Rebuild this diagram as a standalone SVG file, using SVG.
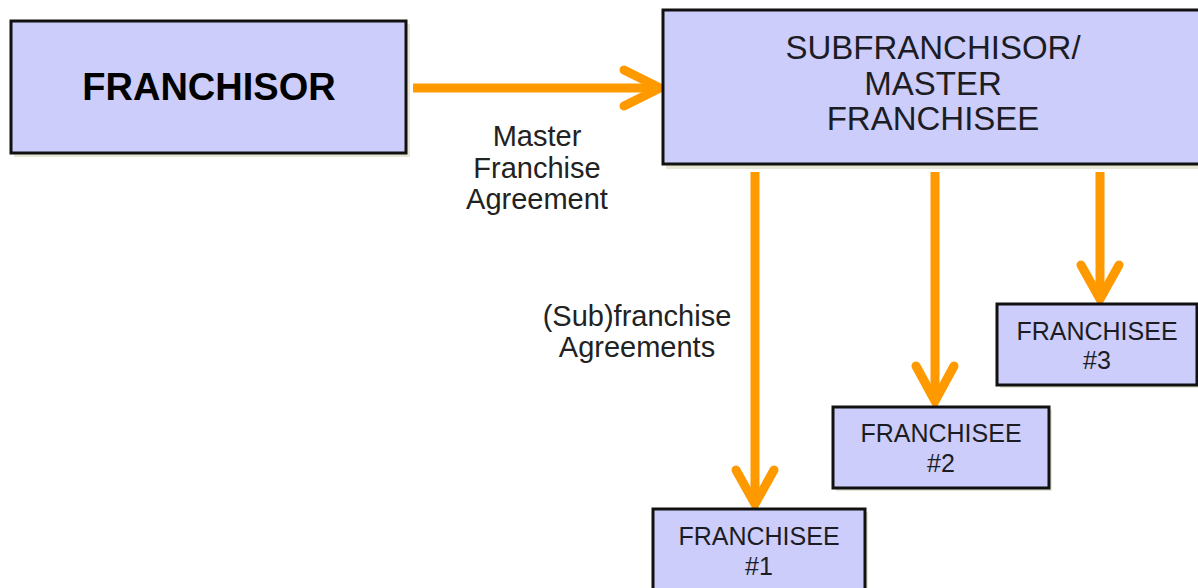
<svg xmlns="http://www.w3.org/2000/svg" width="1198" height="588" viewBox="0 0 1198 588">
<style>
.box{fill:#cccdfa;stroke:#111;stroke-width:3}
.sh{fill:#d9d6b8;opacity:0.6}
.t{font-family:"Liberation Sans",Arial,sans-serif;fill:#1c1c24;text-anchor:middle}
.lbl{font-family:"Liberation Sans",Arial,sans-serif;fill:#222;text-anchor:middle;font-size:29px}
.ar{stroke:#ff9900;stroke-width:9;fill:none;stroke-linecap:butt}
.hd{stroke:#ff9900;stroke-width:9;fill:none;stroke-linecap:round;stroke-linejoin:miter}
</style>
<rect width="1198" height="588" fill="#fff"/>
<g id="connectors">
<line class="ar" x1="413" y1="88" x2="658" y2="88"/>
<polyline class="hd" points="624,70 660,88 624,106"/>
<line class="ar" x1="755" y1="172" x2="755" y2="502"/>
<polyline class="hd" points="736,470 755,504 774,470"/>
<line class="ar" x1="935" y1="172" x2="935" y2="400"/>
<polyline class="hd" points="916,366 935,401 954,366"/>
<line class="ar" x1="1100" y1="172" x2="1100" y2="298"/>
<polyline class="hd" points="1081,265 1100,299 1119,265"/>
</g>
<g id="franchisor">
<rect class="sh" x="14" y="24" width="396" height="133"/>
<rect class="box" x="11" y="21" width="395" height="132"/>
<text class="t" x="209" y="100" font-size="38" font-weight="bold" fill="#000" style="fill:#000">FRANCHISOR</text>
</g>
<g id="subfranchisor">
<rect class="sh" x="666" y="13" width="540" height="156"/>
<rect class="box" x="663" y="10" width="545" height="154"/>
<text class="t" x="933" y="59" font-size="33">SUBFRANCHISOR/</text>
<text class="t" x="933" y="95" font-size="33">MASTER</text>
<text class="t" x="933" y="130" font-size="33">FRANCHISEE</text>
</g>
<g id="franchisee1">
<rect class="sh" x="656" y="512" width="212" height="90"/>
<rect class="box" x="653" y="509" width="212" height="90"/>
<text class="t" x="759" y="545" font-size="25">FRANCHISEE</text>
<text class="t" x="759" y="575" font-size="25">#1</text>
</g>
<g id="franchisee2">
<rect class="sh" x="836" y="410" width="216" height="81"/>
<rect class="box" x="833" y="407" width="216" height="81"/>
<text class="t" x="941" y="442" font-size="25">FRANCHISEE</text>
<text class="t" x="941" y="472" font-size="25">#2</text>
</g>
<g id="franchisee3">
<rect class="sh" x="1000" y="307" width="210" height="81"/>
<rect class="box" x="997" y="304" width="200" height="81"/>
<text class="t" x="1097" y="340" font-size="25">FRANCHISEE</text>
<text class="t" x="1097" y="369" font-size="25">#3</text>
</g>
<g id="labels">
<text class="lbl" x="537" y="146">Master</text>
<text class="lbl" x="537" y="178">Franchise</text>
<text class="lbl" x="537" y="209">Agreement</text>
<text class="lbl" x="637" y="326" font-size="30">(Sub)franchise</text>
<text class="lbl" x="637" y="357" font-size="30">Agreements</text>
</g>
</svg>
